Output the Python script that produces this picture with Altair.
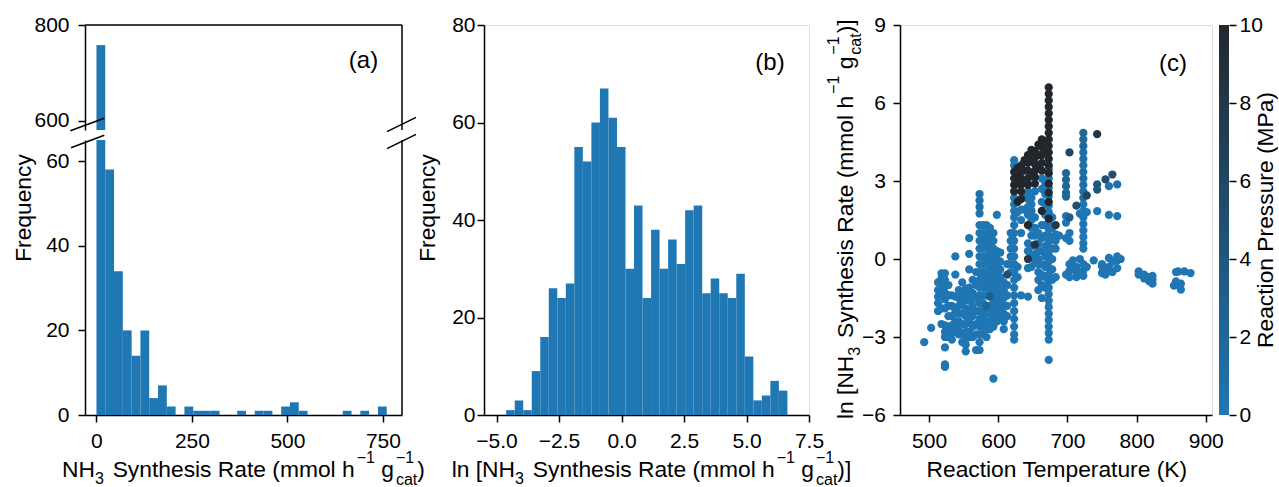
import altair as alt
import pandas as pd

FONT = "Liberation Sans"
BLUE = "#1f77b4"
DARK = "#22272d"
TICK = 21
TITLE = 22.8
SCRIPT = 16
SUB_SHIFT = 7
SUP_SHIFT = -14.5
GAP_AFTER_SUB = 2.5
GAP_BEFORE_SCRIPT = 2.0

# ---------------- data ----------------
# (a) histogram of NH3 synthesis rate
a_first_edge = 0.0
a_bin_width = 23.03
a_counts = [758, 58, 34, 20, 14, 20, 4, 7, 2, 0, 2, 1, 1, 1, 0, 0, 1, 0, 1, 1,
            0, 2, 3, 1, 0, 0, 0, 0, 1, 0, 1, 0, 2]

# (b) histogram of ln(rate)
b_first_edge = -4.613
b_bin_width = 0.3409
b_counts = [1, 3, 1, 9, 16, 26, 24, 27, 55, 52, 60, 67, 61, 55, 30, 43, 24, 38,
            30, 36, 31, 42, 43, 25, 28, 25, 24, 29, 12, 3, 4, 7, 5]

# (c) scatter: temperature column -> list of (ln rate, pressure MPa)
c_temps = [493, 503, 513, 518, 523, 528, 533, 538, 543, 548, 553, 558, 563, 568,
           573, 578, 583, 588, 593, 598, 603, 608, 613, 618, 623, 628, 633, 638,
           643, 648, 653, 658, 663, 668, 673, 678, 683, 688, 698, 703, 708, 713,
           718, 723, 728, 738, 743, 750, 755, 760, 765, 772, 777, 803, 811, 818,
           823, 854, 857, 860, 864, 869, 878]
c_points = [
    [(-3.2, 0.1)],
    [(-2.65, 0.1)],
    [(-0.9, 0.1), (-1.2, 0.1), (-1.45, 0.1), (-1.7, 0.1), (-2.0, 0.1)],
    [(-0.55, 0.1), (-0.75, 0.1), (-1.0, 0.1), (-1.3, 0.1), (-1.9, 0.1), (-2.5, 0.1)],
    [(-0.55, 0.1), (-0.8, 0.1), (-1.05, 0.1), (-1.3, 0.1), (-1.55, 0.1), (-1.9, 0.1),
     (-2.55, 0.1), (-2.8, 0.1), (-3.0, 0.1), (-3.4, 0.1), (-4.05, 0.1), (-4.15, 0.1)],
    [(-1.0, 0.1), (-1.4, 0.1), (-1.8, 0.1), (-2.2, 0.1), (-2.6, 0.1), (-3.0, 0.1)],
    [(-1.4, 0.1), (-1.8, 0.1), (-2.2, 0.1), (-2.55, 0.1), (-2.85, 0.1), (-3.1, 0.1)],
    [(0.1, 0.1), (-0.6, 0.1), (-1.45, 0.1), (-2.0, 0.1), (-2.4, 0.1), (-2.7, 0.1)],
    [(-1.2, 0.1), (-1.5, 0.1), (-1.8, 0.1), (-2.1, 0.1), (-2.4, 0.1), (-2.7, 0.1), (-2.9, 0.1)],
    [(-0.9, 0.1), (-1.3, 0.1), (-1.7, 0.1), (-2.1, 0.1), (-2.5, 0.1), (-2.9, 0.1), (-3.2, 0.1)],
    [(-1.15, 0.1), (-1.5, 0.1), (-1.9, 0.1), (-2.2, 0.1), (-2.5, 0.1), (-2.8, 0.1),
     (-3.1, 0.1), (-3.3, 0.1), (-3.55, 0.1)],
    [(0.8, 0.1), (0.2, 0.1), (-0.4, 0.1), (-1.1, 0.1), (-1.35, 0.1), (-1.6, 0.1), (-2.0, 0.1),
     (-2.4, 0.1), (-2.8, 0.1), (-3.0, 0.1)],
    [(-0.8, 0.1), (-1.3, 0.1), (-1.55, 0.1), (-1.8, 0.1), (-2.2, 0.1), (-2.6, 0.1), (-3.0, 0.1)],
    [(-0.5, 0.1), (-1.0, 0.1), (-1.5, 0.1), (-2.0, 0.1), (-2.5, 0.1), (-2.9, 0.1), (-3.5, 0.1)],
    [(2.5, 0.8), (2.25, 0.8), (2.0, 0.8), (1.75, 0.5), (1.3, 0.1), (1.0, 0.1), (0.7, 0.1),
     (0.4, 0.1), (0.1, 0.1), (-0.2, 0.1), (-0.5, 0.1), (-0.8, 0.1), (-1.1, 0.1),
     (-1.4, 0.1), (-1.7, 0.1), (-2.0, 0.1), (-2.3, 0.1), (-2.6, 0.1), (-2.9, 0.1),
     (-3.2, 0.1), (-3.5, 0.1)],
    [(1.3, 0.1), (1.0, 0.1), (0.7, 0.1), (0.4, 0.1), (0.1, 0.1), (-0.2, 0.1), (-0.5, 0.1),
     (-0.8, 0.1), (-1.1, 0.1), (-1.4, 0.1), (-1.7, 0.1), (-2.0, 0.1), (-2.3, 0.1),
     (-2.6, 0.1), (-2.9, 0.1)],
    [(1.3, 0.1), (1.0, 0.1), (0.7, 0.1), (0.4, 0.1), (0.1, 0.1), (-0.2, 0.1), (-0.5, 0.1),
     (-0.8, 0.1), (-1.1, 0.1), (-1.4, 0.1), (-1.8, 2.0), (-2.1, 0.1), (-2.4, 0.1),
     (-2.7, 0.1), (-3.0, 0.1)],
    [(1.2, 0.1), (0.9, 0.1), (0.6, 0.1), (0.3, 0.1), (0.0, 0.1), (-0.3, 0.1), (-0.6, 0.1),
     (-0.9, 0.1), (-1.2, 0.1), (-1.45, 3.0), (-1.8, 0.1), (-2.1, 0.1), (-2.4, 0.1),
     (-2.7, 0.1)],
    [(1.0, 0.1), (0.7, 0.1), (0.4, 0.1), (0.1, 0.1), (-0.2, 0.1), (-0.5, 0.1), (-0.8, 0.1),
     (-1.1, 0.1), (-1.4, 0.1), (-1.7, 0.1), (-2.0, 0.1), (-2.3, 0.1), (-2.6, 0.1),
     (-4.6, 0.1)],
    [(1.7, 0.1), (0.3, 0.1), (0.0, 0.1), (-0.3, 0.1), (-0.6, 0.1), (-0.9, 0.1), (-1.2, 0.1),
     (-1.5, 0.1), (-1.8, 0.1), (-2.1, 0.1), (-2.4, 0.1)],
    [(0.25, 0.1), (-0.1, 0.1), (-0.4, 0.1), (-0.7, 0.1), (-1.0, 0.1), (-1.3, 0.1),
     (-1.6, 0.1), (-1.9, 0.1), (-2.2, 0.1)],
    [(-0.9, 0.1), (-1.2, 0.1), (-1.5, 0.1), (-1.8, 0.1), (-2.1, 0.1), (-2.4, 0.1), (-2.7, 0.1)],
    [(-0.2, 0.1), (-0.6, 5.0), (-1.0, 0.1), (-1.4, 0.1), (-1.8, 0.1), (-2.2, 0.1)],
    [(1.0, 0.1), (0.7, 0.1), (0.4, 0.1), (0.1, 0.1), (-0.2, 0.1), (-0.5, 0.1)],
    [(3.8, 0.1), (3.6, 0.1), (3.35, 10), (3.1, 10), (2.85, 10), (2.6, 10), (2.35, 0.1),
     (2.1, 0.1), (1.85, 0.1), (1.6, 0.1), (1.3, 0.1), (1.0, 0.1), (0.7, 0.1), (0.4, 0.1),
     (0.1, 0.1), (-0.2, 0.1), (-0.5, 0.1), (-0.8, 0.1), (-1.1, 0.1), (-1.4, 0.1), (-1.7, 0.1),
     (-2.0, 0.1), (-2.3, 0.1), (-2.6, 0.1), (-2.9, 0.1), (-3.1, 0.1)],
    [(3.5, 10), (3.2, 10), (2.9, 10), (2.2, 10), (1.8, 0.1), (-0.3, 0.1), (-0.7, 0.1)],
    [(3.6, 10), (3.35, 10), (3.1, 10), (2.85, 10), (2.6, 10), (2.3, 10), (1.9, 0.1),
     (1.5, 0.1), (1.0, 0.1), (-1.4, 0.1)],
    [(3.8, 10), (3.4, 10), (2.95, 10), (2.5, 0.1), (1.9, 0.1)],
    [(4.0, 10), (3.7, 10), (3.4, 10), (3.1, 10), (2.85, 10), (2.6, 0.1), (2.3, 0.1),
     (2.0, 0.1), (1.7, 0.1), (1.3, 10), (0.6, 0.1), (0.3, 0.1), (0.0, 8), (-0.35, 0.1),
     (-1.45, 0.1)],
    [(4.2, 10), (3.9, 10), (3.2, 10), (2.35, 0.1), (2.1, 0.1), (1.85, 0.1), (1.5, 0.1),
     (1.2, 0.1), (0.9, 0.1), (0.5, 0.1), (0.1, 0.1), (-0.3, 0.1)],
    [(4.15, 10), (3.9, 10), (3.65, 10), (3.4, 10), (3.15, 10), (2.9, 10), (2.6, 0.1),
     (1.6, 0.1), (1.2, 0.1), (0.9, 0.1), (0.55, 8), (0.2, 0.1), (-0.1, 0.1)],
    [(4.4, 10), (4.0, 10), (3.5, 10), (1.0, 0.1), (0.6, 0.1), (0.3, 0.1), (0.0, 0.1),
     (-0.2, 0.1), (-0.5, 0.1), (-0.8, 0.1), (-1.2, 0.1)],
    [(4.6, 10), (4.3, 10), (4.0, 10), (3.7, 10), (3.4, 10), (3.1, 0.1), (2.7, 0.1),
     (2.2, 0.1), (1.85, 10), (1.3, 0.1), (0.8, 0.1), (0.3, 0.1), (-0.2, 0.1), (-0.6, 0.1),
     (-1.0, 0.1), (-1.5, 0.1)],
    [(4.5, 10), (4.1, 10), (2.9, 0.1), (2.5, 0.1), (2.1, 0.1), (1.7, 0.1), (1.3, 0.1),
     (0.9, 0.1), (0.5, 0.1), (0.1, 0.1), (-0.3, 0.1), (-0.7, 0.1), (-1.1, 0.1)],
    [(6.6, 10), (6.35, 10), (6.1, 10), (5.85, 10), (5.6, 10), (5.35, 10), (5.1, 10),
     (4.85, 10), (4.6, 10), (4.35, 10), (4.1, 10), (3.85, 10), (3.6, 10), (3.45, 0.1),
     (3.3, 10), (3.1, 0.1), (2.9, 10), (2.75, 0.1), (2.55, 10), (2.4, 0.1), (2.2, 10),
     (2.05, 0.1), (1.8, 0.1), (1.55, 10), (1.4, 0.1), (1.15, 0.1), (0.9, 0.1), (0.65, 0.1),
     (0.4, 0.1), (0.15, 0.1), (-0.1, 0.1), (-0.35, 0.1), (-0.6, 0.1), (-0.85, 0.1),
     (-1.1, 0.1), (-1.35, 0.1), (-1.6, 0.1), (-1.85, 0.1), (-2.1, 0.1), (-2.35, 0.1),
     (-2.6, 0.1), (-2.85, 0.1), (-3.1, 0.1), (-3.88, 0.1)],
    [(1.6, 0.1), (1.2, 0.1), (0.8, 0.1), (0.4, 0.1), (0.0, 0.1), (-0.4, 0.1), (-0.8, 0.1)],
    [(1.3, 8), (0.95, 0.1), (0.7, 0.1), (0.4, 0.1), (-0.7, 0.1)],
    [(0.9, 0.1)],
    [(3.3, 2), (3.05, 2), (2.8, 2), (2.55, 2), (2.4, 2), (1.65, 0.1), (1.4, 0.1),
     (0.8, 0.1), (-0.6, 0.1)],
    [(4.1, 6), (1.6, 3), (1.0, 0.1), (0.7, 0.1), (-0.2, 0.1), (-0.45, 0.1), (-0.7, 0.1)],
    [(-0.05, 0.1), (-0.3, 0.1)],
    [(2.05, 5), (-0.3, 0.1), (-0.5, 0.1), (-0.7, 0.1)],
    [(1.75, 0.1), (0.0, 0.1), (-0.6, 0.1)],
    [(4.85, 2), (4.6, 2), (4.35, 2), (4.1, 1), (3.85, 1), (3.6, 1), (3.35, 1), (3.1, 1),
     (2.85, 1), (2.6, 1), (2.35, 1), (2.1, 0.1), (1.85, 0.1), (1.6, 0.1), (1.35, 0.1),
     (1.1, 0.1), (0.85, 0.1), (0.6, 0.1), (0.4, 0.1), (-0.2, 0.1), (-0.45, 0.1), (-0.65, 0.1)],
    [(2.45, 6), (1.8, 0.1), (-0.3, 0.1)],
    [(-0.05, 0.1)],
    [(4.8, 8), (2.87, 4), (2.67, 4), (1.84, 0.1)],
    [(-0.2, 0.1), (-0.28, 0.1), (-0.54, 0.1)],
    [(3.06, 5), (-0.4, 0.1), (-0.6, 0.1)],
    [(2.8, 0.5), (1.7, 0.1), (0.04, 0.1), (-0.3, 0.1)],
    [(3.25, 5), (-0.1, 0.1), (-0.5, 0.1)],
    [(2.87, 0.5), (1.65, 0.1), (0.1, 0.1), (-0.05, 0.1), (-0.35, 0.1)],
    [(0.0, 0.1)],
    [(-0.48, 0.1), (-0.6, 0.1)],
    [(-0.6, 0.1), (-0.75, 0.1)],
    [(-0.7, 0.1), (-0.85, 0.1)],
    [(-0.65, 0.1), (-0.8, 0.1), (-0.95, 0.1)],
    [(-1.02, 0.1)],
    [(-0.5, 0.1), (-0.86, 0.1)],
    [(-0.48, 0.1), (-1.0, 0.1)],
    [(-0.95, 0.1), (-1.18, 0.1)],
    [(-0.48, 0.1)],
    [(-0.54, 0.1)],
]

a_x_ticks = [0, 250, 500, 750]
a_top_ticks = [600, 800]
a_bottom_ticks = [0, 20, 40, 60]
b_x_ticks = [-5.0, -2.5, 0.0, 2.5, 5.0, 7.5]
b_y_ticks = [0, 20, 40, 60, 80]
c_x_ticks = [500, 600, 700, 800, 900]
c_y_ticks = [-6, -3, 0, 3, 6, 9]
p_ticks = [0, 2, 4, 6, 8, 10]

# ---------------- tables ----------------
def hist_table(first, width, counts):
    rows = []
    for i, c in enumerate(counts):
        if c > 0:
            rows.append({"lo": first + i * width, "hi": first + (i + 1) * width, "count": c})
    return pd.DataFrame(rows)

a_df = hist_table(a_first_edge, a_bin_width, a_counts)
b_df = hist_table(b_first_edge, b_bin_width, b_counts)
c_rows = []
for t, pts in zip(c_temps, c_points):
    for r, p in pts:
        c_rows.append({"T": t, "r": r, "p": p})
c_df = pd.DataFrame(c_rows).sort_values("p", kind="stable").reset_index(drop=True)
c_df["order"] = range(len(c_df))

# ---------------- helpers ----------------
WIDTHS = {' ': 278, 'N': 722, 'H': 722, 'S': 667, 'y': 500, 'n': 556, 't': 278,
          'h': 556, 'e': 556, 's': 500, 'i': 222, 'R': 722, 'a': 556, '(': 333,
          ')': 333, 'm': 833, 'o': 556, 'l': 222, 'g': 556, 'c': 500, '[': 278,
          ']': 278, '3': 556, '1': 556, '\u2212': 584}


def text_width(s, size):
    return sum(WIDTHS.get(ch, 556) for ch in s) * size / 1000.0


def label(s, x, y, size, align="left", baseline="alphabetic", angle=0):
    return alt.Chart(pd.DataFrame({"t": [s]})).mark_text(
        font=FONT, fontSize=size, align=align, baseline=baseline, angle=angle,
        color="black").encode(text="t:N", x=alt.value(x), y=alt.value(y))


def seg_line(x1, y1, x2, y2, color="black", width=1.5):
    return alt.Chart(pd.DataFrame({"k": [0]})).mark_rule(
        color=color, strokeWidth=width).encode(
        x=alt.value(x1), y=alt.value(y1), x2=alt.value(x2), y2=alt.value(y2))


def rich(segments, x0, y0, rotated=False):
    layers = []
    along = 0.0
    for seg in segments:
        kind = seg[0]
        if kind == "m":
            pieces = [(seg[1], TITLE, 0.0)]
            adv = text_width(seg[1], TITLE)
        elif kind == "sub":
            pieces = [(seg[1], SCRIPT, SUB_SHIFT)]
            adv = text_width(seg[1], SCRIPT) + GAP_AFTER_SUB
        elif kind == "sup":
            along += GAP_BEFORE_SCRIPT
            pieces = [(seg[1], SCRIPT, SUP_SHIFT)]
            adv = text_width(seg[1], SCRIPT)
        else:  # subsup
            along += GAP_BEFORE_SCRIPT
            pieces = [(seg[1], SCRIPT, SUB_SHIFT + 0.5), (seg[2], SCRIPT, SUP_SHIFT)]
            adv = max(text_width(seg[1], SCRIPT), text_width(seg[2], SCRIPT))
        for s, size, shift in pieces:
            body = s.lstrip(" ")
            lead = text_width(s[:len(s) - len(body)], size)
            if rotated:
                layers.append(label(body, x0 + shift, y0 - along - lead, size, angle=270))
            else:
                layers.append(label(body, x0 + along + lead, y0 + shift, size))
        along += adv
    return layers


M = "\u2212"
rate_title = [("m", "NH"), ("sub", "3"), ("m", " Synthesis Rate (mmol h"), ("sup", M + "1"),
              ("m", " g"), ("subsup", "cat", M + "1"), ("m", ")")]
ln_title = [("m", "ln [NH"), ("sub", "3"), ("m", " Synthesis Rate (mmol h"), ("sup", M + "1"),
            ("m", " g"), ("subsup", "cat", M + "1"), ("m", ")]")]


def axis(values, fmt, pad, **kw):
    return alt.Axis(values=values, format=fmt, title=None, grid=False, labelFont=FONT,
                    labelFontSize=TICK, labelColor="black", tickColor="black",
                    tickSize=7, tickWidth=1.5, domainColor="black", domainWidth=1.5,
                    labelFlush=False, labelOverlap=False, labelPadding=pad, **kw)


# ---------------- layout sizes ----------------
WA, WB, WC, WCB = 317, 325, 312, 10
H = 390
A_TOP_END, A_BOT_START = 105, 115   # broken-axis split inside panel (a)

no_stroke = alt.ViewBackground(strokeOpacity=0)

# ---------------- panel (a): broken y axis ----------------
xa = alt.Scale(domain=[-30, 800], nice=False, zero=False)
xa_axis = axis(a_x_ticks, "d", 8)
a_top_bars = alt.Chart(a_df).transform_filter("datum.count > 581").mark_rect(color=BLUE).encode(
    x=alt.X("lo:Q", scale=xa, axis=xa_axis), x2="hi:Q",
    y=alt.Y("count:Q",
            scale=alt.Scale(domain=[581, 800], range=[A_TOP_END, 0], nice=False,
                            zero=False, clamp=True),
            axis=axis(a_top_ticks, "d", 9, orient="left")),
    y2=alt.datum(0))
a_bot_bars = alt.Chart(a_df).mark_rect(color=BLUE).encode(
    x=alt.X("lo:Q", scale=xa, axis=xa_axis), x2="hi:Q",
    y=alt.Y("count:Q",
            scale=alt.Scale(domain=[0, 65], range=[H, A_BOT_START], nice=False,
                            zero=False, clamp=True),
            axis=axis(a_bottom_ticks, "d", 9, orient="left")),
    y2=alt.datum(0))
panel_a = alt.layer(
    a_top_bars, a_bot_bars,
    seg_line(0, 0, WA, 0), seg_line(WA, 0, WA, A_TOP_END), seg_line(WA, A_BOT_START, WA, H),
    seg_line(-14.7, 112.7 - 7, 19.3, 100.3 - 7), seg_line(302, 113.7 - 7, 331, 99.3 - 7),
    seg_line(-14, 7.7 + A_BOT_START, 19.3, -4.7 + A_BOT_START),
    seg_line(302, 8.7 + A_BOT_START, 331, -5.7 + A_BOT_START),
    label("(a)", 278.5, 36, 24, align="center", baseline="middle"),
    label("Frequency", -54.5, 183, TITLE, align="center", angle=270),
    *rich(rate_title, -23, 452),
    seg_line(-84, -24, -83.9, -24, color="white", width=0.1),
).resolve_scale(y="independent").resolve_axis(y="independent").properties(
    width=WA, height=H, view=no_stroke)

# ---------------- panel (b) ----------------
b_bars = alt.Chart(b_df).mark_rect(color=BLUE).encode(
    x=alt.X("lo:Q", scale=alt.Scale(domain=[-5.5, 7.5], nice=False, zero=False),
            axis=axis(b_x_ticks, ".1f", 8)), x2="hi:Q",
    y=alt.Y("count:Q", scale=alt.Scale(domain=[0, 80], nice=False),
            axis=axis(b_y_ticks, "d", 2)),
    y2=alt.datum(0))
panel_b = alt.layer(
    b_bars,
    label("(b)", 286, 38, 24, align="center", baseline="middle"),
    label("Frequency", -49.5, 183, TITLE, align="center", angle=270),
    *rich(ln_title, -32.3, 452),
).properties(width=WB, height=H)

# ---------------- panel (c) ----------------
pscale = alt.Scale(domain=[0, 10], range=[BLUE, DARK], interpolate="rgb")
c_pts = alt.Chart(c_df).mark_circle(size=68, opacity=1).encode(
    x=alt.X("T:Q", scale=alt.Scale(domain=[458, 909], nice=False, zero=False),
            axis=axis(c_x_ticks, "d", 8)),
    y=alt.Y("r:Q", scale=alt.Scale(domain=[-6, 9], nice=False, zero=False),
            axis=axis(c_y_ticks, "d", 7.5)),
    color=alt.Color("p:Q", scale=pscale, legend=None),
    order=alt.Order("order:Q"))
panel_c = alt.layer(
    c_pts,
    label("(c)", 273, 39, 24, align="center", baseline="middle"),
    label("Reaction Temperature (K)", 156.8, 452, TITLE, align="center"),
    *rich(ln_title, -47, 394, rotated=True),
).properties(width=WC, height=H)

# ---------------- colour bar ----------------
cb_df = pd.DataFrame({"lo": [p_ticks[0]], "hi": [p_ticks[-1]]})
grad = alt.Gradient(gradient="linear",
                    stops=[alt.GradientStop(color=BLUE, offset=0),
                           alt.GradientStop(color=DARK, offset=1)],
                    x1=0, x2=0, y1=1, y2=0)
cb_rect = alt.Chart(cb_df).mark_rect(color=grad).encode(
    x=alt.value(0), x2=alt.value(WCB),
    y=alt.Y("lo:Q", scale=alt.Scale(domain=[0, 10], nice=False),
            axis=axis(p_ticks, "d", 3, orient="right", domain=False)),
    y2="hi:Q")
colorbar = alt.layer(
    cb_rect,
    label("Reaction Pressure (MPa)", 54, 195, TITLE, align="center", angle=270),
).properties(width=WCB, height=H, view=no_stroke)

right = alt.hconcat(panel_b, alt.hconcat(panel_c, colorbar, spacing=7, bounds="flush"),
                    spacing=91, bounds="flush")
chart = alt.hconcat(panel_a, right, spacing=82, bounds="flush").properties(
    padding={"left": 0, "top": 0, "right": 0, "bottom": 0}
).configure_view(stroke="black", strokeWidth=1.5).configure(background="white")

chart.save("out.html", embed_options={"renderer": "svg", "actions": False})
